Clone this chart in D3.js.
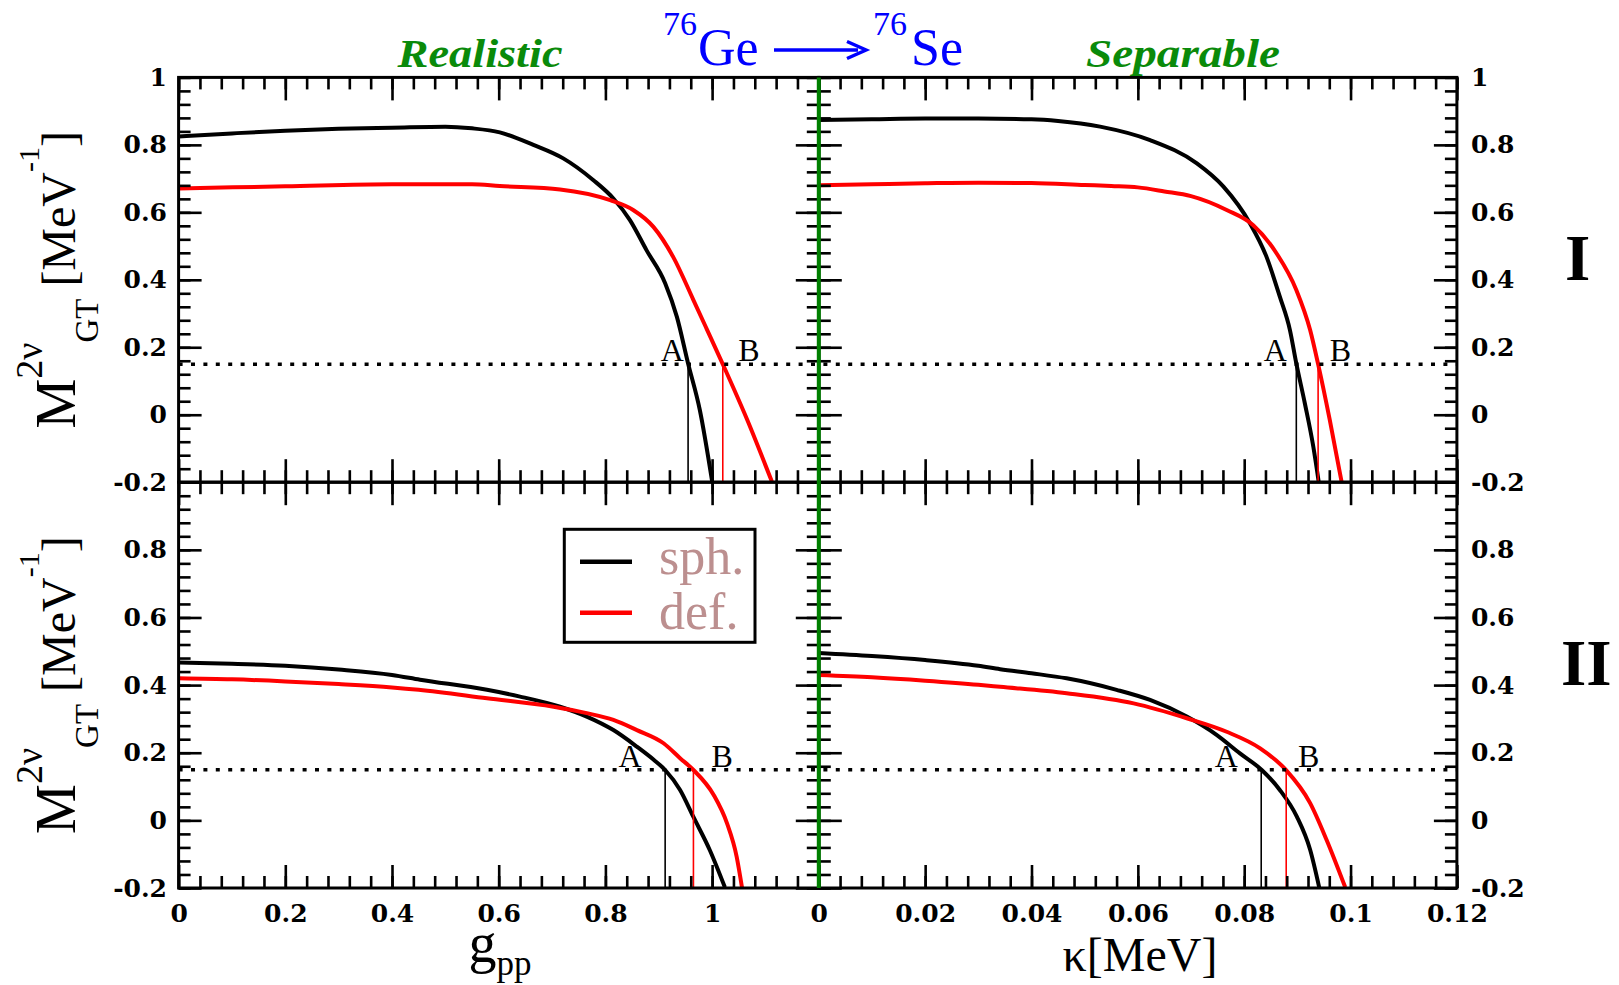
<!DOCTYPE html>
<html><head><meta charset="utf-8">
<script src="https://cdn.jsdelivr.net/npm/d3@7"></script>
<style>body{margin:0;background:#fff} svg{display:block} text{white-space:pre}</style>
</head><body>
<svg id="c" width="1619" height="985"></svg>
<script>
// ---------- data ----------
// Panel I, Realistic (x = g_pp)
const realI_sph_g = [0, 0.1, 0.2, 0.3, 0.4, 0.5, 0.55, 0.602, 0.665, 0.721, 0.777, 0.815, 0.846, 0.877, 0.912, 0.934, 0.955, 0.977, 1.0];
const realI_sph_M = [0.825, 0.834, 0.842, 0.848, 0.851, 0.854, 0.849, 0.837, 0.80, 0.760, 0.696, 0.641, 0.577, 0.488, 0.390, 0.290, 0.152, 0.014, -0.197];
const realI_def_g = [0, 0.2, 0.4, 0.55, 0.602, 0.715, 0.809, 0.852, 0.890, 0.927, 0.965, 0.99, 1.02, 1.065, 1.112];
const realI_def_M = [0.671, 0.677, 0.683, 0.683, 0.678, 0.668, 0.636, 0.607, 0.557, 0.468, 0.340, 0.254, 0.15, -0.012, -0.198];
// Panel I, Separable (x = kappa)
const sepI_sph_k = [0, 0.01, 0.02, 0.03, 0.04, 0.045, 0.0529, 0.0623, 0.0711, 0.0761, 0.0811, 0.0842, 0.0867, 0.0886, 0.0898, 0.0914, 0.093, 0.094];
const sepI_sph_M = [0.874, 0.876, 0.878, 0.878, 0.876, 0.871, 0.854, 0.814, 0.745, 0.676, 0.567, 0.468, 0.350, 0.251, 0.152, 0.034, -0.095, -0.198];
const sepI_def_k = [0, 0.01, 0.02, 0.03, 0.04, 0.05, 0.055, 0.06, 0.065, 0.07, 0.0767, 0.0817, 0.0861, 0.0898, 0.0924, 0.0939, 0.0961, 0.0983];
const sepI_def_M = [0.680, 0.683, 0.686, 0.688, 0.687, 0.681, 0.678, 0.674, 0.662, 0.648, 0.607, 0.562, 0.478, 0.370, 0.251, 0.15, -0.016, -0.198];
// Panel II, Realistic
const realII_sph_g = [0, 0.1, 0.2, 0.3, 0.4, 0.4525, 0.578, 0.640, 0.715, 0.765, 0.815, 0.859, 0.890, 0.912, 0.940, 0.965, 0.996, 1.024];
const realII_sph_M = [0.467, 0.463, 0.457, 0.446, 0.43, 0.416, 0.386, 0.366, 0.336, 0.307, 0.267, 0.218, 0.18, 0.149, 0.09, 0.01, -0.089, -0.198];
const realII_def_g = [0, 0.1, 0.2, 0.3, 0.4, 0.45, 0.578, 0.703, 0.765, 0.815, 0.859, 0.909, 0.94, 0.965, 1.003, 1.028, 1.046, 1.056];
const realII_def_M = [0.42, 0.417, 0.411, 0.403, 0.393, 0.386, 0.361, 0.336, 0.317, 0.297, 0.267, 0.228, 0.184, 0.149, 0.075, -0.009, -0.107, -0.198];
// Panel II, Separable
const sepII_sph_k = [0, 0.01, 0.02, 0.03, 0.0341, 0.04, 0.0466, 0.056, 0.0623, 0.0692, 0.0748, 0.0792, 0.0833, 0.0867, 0.0899, 0.0924, 0.0941];
const sepII_sph_M = [0.495, 0.486, 0.474, 0.457, 0.447, 0.435, 0.42, 0.386, 0.356, 0.307, 0.253, 0.198, 0.149, 0.09, 0.011, -0.087, -0.198];
const sepII_def_k = [0, 0.01, 0.02, 0.03, 0.0341, 0.0466, 0.0592, 0.0692, 0.0767, 0.083, 0.0878, 0.0924, 0.0955, 0.099];
const sepII_def_M = [0.43, 0.423, 0.413, 0.401, 0.395, 0.376, 0.346, 0.302, 0.262, 0.213, 0.15, 0.051, -0.058, -0.198];

// crossing points with the experimental value (A: sph., B: def.)   order: real I, sep I, real II, sep II
const threshold = 0.15;
const crossA = [0.955, 0.0898, 0.912, 0.0832];
const crossB = [1.02, 0.0939, 0.965, 0.0879];
const labelAx = [0.947, 0.0880, 0.868, 0.0788];
const labelBx = [1.049, 0.0961, 0.999, 0.0901];
const labelY = 0.158;

// ticks
const yMajor = [-0.2, 0, 0.2, 0.4, 0.6, 0.8, 1];
const gMajor = [0, 0.2, 0.4, 0.6, 0.8, 1, 1.2];
const kMajor = [0, 0.02, 0.04, 0.06, 0.08, 0.1, 0.12];
const yMinorStep = 0.04, gMinorStep = 0.04, kMinorStep = 0.004;

const legendNames = ["sph.", "def."];
const seriesColors = ["#000000", "#ff0000"];

// ---------- drawing ----------
const svg = d3.select("#c");
const box = {L:178.6, M:818.8, R:1456.9, T:77.4, MID:482.2, B:888};
const fmt = d => String(+(+d).toFixed(3));
const tickFont = "DejaVu Serif";

const panels = [
  {x0:box.L, x1:box.M, y0:box.T, y1:box.MID, dom:[0,1.2], major:gMajor, step:gMinorStep, left:true, right:false, bottom:false, top:true,
   sph:[realI_sph_g, realI_sph_M], def:[realI_def_g, realI_def_M], i:0},
  {x0:box.M, x1:box.R, y0:box.T, y1:box.MID, dom:[0,0.12], major:kMajor, step:kMinorStep, left:false, right:true, bottom:false, top:true,
   sph:[sepI_sph_k, sepI_sph_M], def:[sepI_def_k, sepI_def_M], i:1},
  {x0:box.L, x1:box.M, y0:box.MID, y1:box.B, dom:[0,1.2], major:gMajor, step:gMinorStep, left:true, right:false, bottom:true, top:false,
   sph:[realII_sph_g, realII_sph_M], def:[realII_def_g, realII_def_M], i:2},
  {x0:box.M, x1:box.R, y0:box.MID, y1:box.B, dom:[0,0.12], major:kMajor, step:kMinorStep, left:false, right:true, bottom:true, top:false,
   sph:[sepII_sph_k, sepII_sph_M], def:[sepII_def_k, sepII_def_M], i:3}
];

function styleAxis(g){
  g.select(".domain").remove();
  g.selectAll(".tick line").attr("stroke","#000").attr("stroke-width",2.6);
  g.selectAll(".tick text").attr("font-family",tickFont).attr("font-weight","bold")
   .attr("font-size",25).attr("fill","#000");
}

panels.forEach(p => {
  const x = d3.scaleLinear().domain(p.dom).range([p.x0, p.x1]);
  const y = d3.scaleLinear().domain([-0.2, 1]).range([p.y1, p.y0]);
  p.x = x; p.y = y;
  const xMinor = d3.range(p.dom[0], p.dom[1] + p.step/2, p.step);
  const yMinor = d3.range(-0.2, 1 + yMinorStep/2, yMinorStep);
  const xLabFmt = d => (p.bottom && (Math.abs(d - p.dom[1]) > 1e-9 || p.i===3)) ? fmt(d) : "";
  const yLabFmt = d => (p.top || d < 0.99) ? fmt(d) : "";

  // curves
  const line = d3.line().x(d => x(d[0])).y(d => y(d[1])).curve(d3.curveMonotoneX);
  [p.sph, p.def].forEach((s, k) => {
    const pts = s[0].map((v, j) => [v, s[1][j]]);
    svg.append("path").attr("d", line(pts)).attr("fill","none")
      .attr("stroke", seriesColors[k]).attr("stroke-width", 4).attr("stroke-linejoin","round");
  });
  // vertical markers
  [[crossA[p.i], seriesColors[0]], [crossB[p.i], seriesColors[1]]].forEach(([c, col]) => {
    svg.append("line").attr("x1", x(c)).attr("x2", x(c)).attr("y1", y(threshold)).attr("y2", y(-0.2))
      .attr("stroke", col).attr("stroke-width", 1.6);
  });
  svg.append("text").attr("x", x(labelAx[p.i])).attr("y", y(labelY)).attr("text-anchor","end")
    .attr("font-family","Liberation Serif").attr("font-size",32).text("A");
  svg.append("text").attr("x", x(labelBx[p.i])).attr("y", y(labelY)).attr("text-anchor","start")
    .attr("font-family","Liberation Serif").attr("font-size",32).text("B");

  // axes: bottom
  svg.append("g").attr("transform",`translate(0,${p.y1})`)
    .call(d3.axisBottom(x).tickValues(xMinor).tickSize(-12).tickFormat("")).call(styleAxis);
  svg.append("g").attr("transform",`translate(0,${p.y1})`)
    .call(d3.axisBottom(x).tickValues(p.major).tickSize(-23).tickPadding(16).tickFormat(xLabFmt)).call(styleAxis);
  // top
  svg.append("g").attr("transform",`translate(0,${p.y0})`)
    .call(d3.axisTop(x).tickValues(xMinor).tickSize(-12).tickFormat("")).call(styleAxis);
  svg.append("g").attr("transform",`translate(0,${p.y0})`)
    .call(d3.axisTop(x).tickValues(p.major).tickSize(-23).tickFormat("")).call(styleAxis);
  // left
  svg.append("g").attr("transform",`translate(${p.x0},0)`)
    .call(d3.axisLeft(y).tickValues(yMinor).tickSize(-12).tickFormat("")).call(styleAxis);
  svg.append("g").attr("transform",`translate(${p.x0},0)`)
    .call(d3.axisLeft(y).tickValues(yMajor).tickSize(-23).tickPadding(11.6).tickFormat(p.left ? yLabFmt : "")).call(styleAxis);
  // right
  svg.append("g").attr("transform",`translate(${p.x1},0)`)
    .call(d3.axisRight(y).tickValues(yMinor).tickSize(-12).tickFormat("")).call(styleAxis);
  svg.append("g").attr("transform",`translate(${p.x1},0)`)
    .call(d3.axisRight(y).tickValues(yMajor).tickSize(-23).tickPadding(14).tickFormat(p.right ? yLabFmt : "")).call(styleAxis);

  // frame
  svg.append("rect").attr("x", p.x0).attr("y", p.y0).attr("width", p.x1 - p.x0).attr("height", p.y1 - p.y0)
    .attr("fill","none").attr("stroke","#000").attr("stroke-width",3);
});

// dotted experimental lines across both columns
[[panels[0], panels[1]], [panels[2], panels[3]]].forEach(([a, b]) => {
  svg.append("line").attr("x1", a.x(a.dom[0])).attr("x2", b.x(b.dom[1]))
    .attr("y1", a.y(threshold)).attr("y2", a.y(threshold))
    .attr("stroke","#000").attr("stroke-width",3.5).attr("stroke-dasharray","4 8.4");
});

// green separator
svg.append("line").attr("x1", panels[0].x(1.2)).attr("x2", panels[0].x(1.2))
  .attr("y1", box.T).attr("y2", box.B).attr("stroke","#008000").attr("stroke-width",4);

// titles
svg.append("text").attr("x", 480).attr("y", 67).attr("text-anchor","middle")
  .attr("font-family","Liberation Serif").attr("font-weight","bold").attr("font-style","italic")
  .attr("font-size",40).attr("fill","#0a8a0a").attr("textLength",165).attr("lengthAdjust","spacingAndGlyphs").text("Realistic");
svg.append("text").attr("x", 1183).attr("y", 67).attr("text-anchor","middle")
  .attr("font-family","Liberation Serif").attr("font-weight","bold").attr("font-style","italic")
  .attr("font-size",40).attr("fill","#0a8a0a").attr("textLength",194).attr("lengthAdjust","spacingAndGlyphs").text("Separable");

const blue = "#0000ff";
const tB = svg.append("g").attr("font-family","Liberation Serif").attr("fill",blue);
tB.append("text").attr("x",663).attr("y",35).attr("font-size",34).text("76");
tB.append("text").attr("x",698).attr("y",65).attr("font-size",52).text("Ge");
tB.append("text").attr("x",873).attr("y",35).attr("font-size",34).text("76");
tB.append("text").attr("x",911).attr("y",65).attr("font-size",52).text("Se");
svg.append("line").attr("x1",774).attr("x2",858).attr("y1",50).attr("y2",50).attr("stroke",blue).attr("stroke-width",3.5);
svg.append("path").attr("d","M847,41.5 L866,50 L847,58.5").attr("fill","none").attr("stroke",blue).attr("stroke-width",3.5);

// Roman numerals
svg.append("text").attr("x",1565).attr("y",280).attr("font-family","Liberation Serif").attr("font-weight","bold").attr("font-size",65).text("I");
svg.append("text").attr("x",1561).attr("y",685).attr("font-family","Liberation Serif").attr("font-weight","bold").attr("font-size",65).text("II");

// y-axis titles
[(box.T + box.MID)/2, (box.MID + box.B)/2].forEach(cy => {
  const t = svg.append("text").attr("transform",`translate(75,${cy}) rotate(-90)`)
    .attr("text-anchor","middle").attr("font-family","Liberation Serif").attr("fill","#000");
  t.append("tspan").attr("font-size",56).text("M");
  t.append("tspan").attr("font-size",38).attr("dy",-33).text("2ν");
  t.append("tspan").attr("font-size",33).attr("dy",56).text("GT");
  t.append("tspan").attr("font-size",48).attr("dy",-23).text(" [MeV");
  t.append("tspan").attr("font-size",30).attr("dy",-36).text("-1");
  t.append("tspan").attr("font-size",48).attr("dy",36).text("]");
});

// x-axis titles
const gx = svg.append("text").attr("x",500).attr("y",962).attr("text-anchor","middle")
  .attr("font-family","Liberation Serif").attr("fill","#000");
gx.append("tspan").attr("font-size",56).text("g");
gx.append("tspan").attr("font-size",35).attr("dy",13).text("pp");
svg.append("text").attr("x",1140).attr("y",971).attr("text-anchor","middle")
  .attr("font-family","Liberation Serif").attr("font-size",48).attr("fill","#000").text("κ[MeV]");

// legend
const lg = svg.append("g");
lg.append("rect").attr("x",564.3).attr("y",529.3).attr("width",190.7).attr("height",113)
  .attr("fill","#fff").attr("stroke","#000").attr("stroke-width",3);
legendNames.forEach((n, k) => {
  const yy = [561.7, 612.7][k];
  lg.append("line").attr("x1",580).attr("x2",632).attr("y1",yy).attr("y2",yy)
    .attr("stroke",seriesColors[k]).attr("stroke-width",4.5);
  lg.append("text").attr("x",659).attr("y",[574.3, 629][k]).attr("font-family","Liberation Serif")
    .attr("font-size",52).attr("fill","#bc8f8f").text(n);
});
</script>
</body></html>
